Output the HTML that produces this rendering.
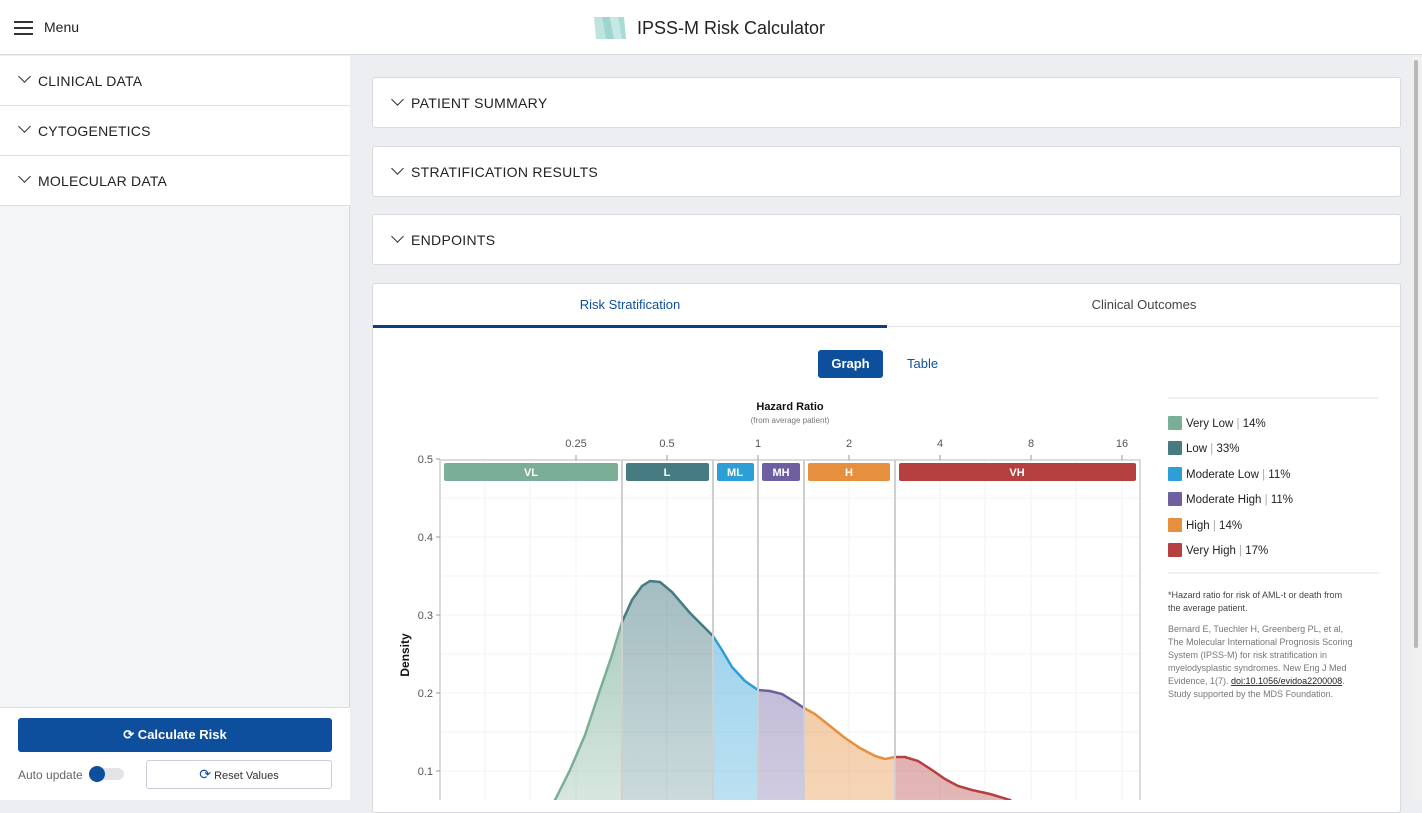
<!DOCTYPE html>
<html><head><meta charset="utf-8"><style>
*{box-sizing:border-box;margin:0;padding:0}
body{width:1422px;height:800px;overflow:hidden;background:#eceef1;font-family:"Liberation Sans",sans-serif;color:#222;position:relative}
.abs{position:absolute}
#hdr{left:0;top:0;width:1422px;height:55px;background:#fff;border-bottom:1px solid #d6d8dc}
#side{left:0;top:56px;width:350px;height:744px;background:#f4f5f7;border-right:1px solid #d6d8dc}
.sec{position:absolute;left:0;width:350px;height:50px;background:#fff;border-bottom:1px solid #dcdee2;font-size:14px;letter-spacing:.2px;padding:17px 0 0 38px}
.chev{position:absolute;width:9px;height:9px;border-right:1.6px solid #333;border-bottom:1.6px solid #333;transform:rotate(45deg)}
.card{position:absolute;left:372px;width:1029px;background:#fff;border:1px solid #d8dadf;border-radius:3px;font-size:14px;letter-spacing:.3px}
</style></head><body>
<div id="hdr" class="abs">
  <div class="abs" style="left:14px;top:21px;width:19px;height:2px;background:#333;box-shadow:0 6px 0 #333,0 12px 0 #333"></div>
  <div class="abs" style="left:44px;top:19px;font-size:14px">Menu</div>
  <svg class="abs" style="left:592px;top:17px" width="36" height="22"><polygon points="2,0 10,0 14,22 4,22" fill="#bfe3df"/><polygon points="10,0 18,0 22,22 14,22" fill="#9fd4cf"/><polygon points="18,0 26,0 30,22 22,22" fill="#c6e8e4"/><polygon points="26,0 32,0 34,22 30,22" fill="#a9dad5"/></svg>
  <div class="abs" style="left:637px;top:18px;font-size:18px;color:#222">IPSS-M Risk Calculator</div>
</div>
<div id="side" class="abs">
  <div class="sec" style="top:0">CLINICAL DATA<div class="chev" style="left:20px;top:16px"></div></div>
  <div class="sec" style="top:50px">CYTOGENETICS<div class="chev" style="left:20px;top:16px"></div></div>
  <div class="sec" style="top:100px">MOLECULAR DATA<div class="chev" style="left:20px;top:16px"></div></div>
  <div class="abs" style="left:0;top:651px;width:350px;height:93px;background:#fff;border-top:1px solid #dcdee2"></div>
  <div class="abs" style="left:18px;top:662px;width:314px;height:34px;background:#0d4f9c;border-radius:3px;color:#fff;font-size:13px;font-weight:bold;text-align:center;line-height:34px">&#x27F3; Calculate Risk</div>
  <div class="abs" style="left:18px;top:712px;font-size:12px;color:#666">Auto update</div>
  <div class="abs" style="left:90px;top:712px;width:34px;height:12px;background:#e3e4e7;border-radius:6px"></div>
  <div class="abs" style="left:89px;top:710px;width:16px;height:16px;background:#0d4f9c;border-radius:50%"></div>
  <div class="abs" style="left:146px;top:704px;width:186px;height:29px;border:1px solid #ccd;border-radius:3px;font-size:11px;color:#333;text-align:center;line-height:27px"><span style="color:#0d4f9c;font-size:14px">&#x27F3;</span> Reset Values</div>
</div>
<div class="card" style="top:77px;height:51px;padding:17px 0 0 38px">PATIENT SUMMARY<div class="chev" style="left:20px;top:17px"></div></div>
<div class="card" style="top:146px;height:51px;padding:17px 0 0 38px">STRATIFICATION RESULTS<div class="chev" style="left:20px;top:17px"></div></div>
<div class="card" style="top:214px;height:51px;padding:17px 0 0 38px">ENDPOINTS<div class="chev" style="left:20px;top:17px"></div></div>
<div class="card" style="top:283px;height:530px">
  <div class="abs" style="left:0;top:42px;width:1027px;height:1px;background:#e2e4e8"></div>
  <div class="abs" style="left:0;top:41px;width:514px;height:3px;background:#0d3f80"></div>
  <div class="abs" style="left:0;top:13px;width:514px;text-align:center;font-size:13px;color:#0d4f9c;letter-spacing:0">Risk Stratification</div>
  <div class="abs" style="left:514px;top:13px;width:514px;text-align:center;font-size:13px;color:#444;letter-spacing:0">Clinical Outcomes</div>
  <div class="abs" style="left:445px;top:66px;width:65px;height:28px;background:#0d4f9c;border-radius:3px;color:#fff;font-size:13px;font-weight:bold;text-align:center;line-height:28px;letter-spacing:0">Graph</div>
  <div class="abs" style="left:534px;top:72px;font-size:13px;color:#0d4f9c;letter-spacing:0">Table</div>
</div>
<div class="abs" style="left:1412px;top:56px;width:10px;height:744px;background:#f0f0f0"></div>
<div class="abs" style="left:1414px;top:60px;width:4px;height:588px;background:#b8b8b8;border-radius:2px"></div>
<svg class="abs" style="left:0;top:0" width="1422" height="800" font-family="Liberation Sans, sans-serif">
<defs>
<linearGradient id="g0" x1="0" y1="0" x2="0" y2="1"><stop offset="0.3" stop-color="#7aae96" stop-opacity=".55"/><stop offset="1" stop-color="#7aae96" stop-opacity=".25"/></linearGradient>
<linearGradient id="g1" x1="0" y1="0" x2="0" y2="1"><stop offset="0" stop-color="#467b82" stop-opacity=".5"/><stop offset="1" stop-color="#467b82" stop-opacity=".25"/></linearGradient>
<linearGradient id="g2" x1="0" y1="0" x2="0" y2="1"><stop offset="0" stop-color="#2e9fd6" stop-opacity=".5"/><stop offset="1" stop-color="#2e9fd6" stop-opacity=".3"/></linearGradient>
<linearGradient id="g3" x1="0" y1="0" x2="0" y2="1"><stop offset="0" stop-color="#6e5fa0" stop-opacity=".5"/><stop offset="1" stop-color="#6e5fa0" stop-opacity=".3"/></linearGradient>
<linearGradient id="g4" x1="0" y1="0" x2="0" y2="1"><stop offset="0" stop-color="#e68f3e" stop-opacity=".55"/><stop offset="1" stop-color="#e68f3e" stop-opacity=".35"/></linearGradient>
<linearGradient id="g5" x1="0" y1="0" x2="0" y2="1"><stop offset="0" stop-color="#b5403f" stop-opacity=".55"/><stop offset="1" stop-color="#b5403f" stop-opacity=".35"/></linearGradient>
<path id="c" d="M540,830 L555,800 L570,770 L585,735 L600,690 L612,655 L622,622 L632,600 L642,586 L650,581 L660,582 L672,592 L690,613 L705,628 L713,636 L722,650 L732,667 L745,681 L758,690 L770,691 L782,694 L795,702 L804,708 L815,714 L830,726 L845,738 L860,748 L875,756 L885,759 L895,757 L905,757 L918,761 L932,770 L945,779 L958,786 L972,790 L990,794 L1010,800 L1030,815"/>
<clipPath id="k0"><rect x="440" y="460" width="182" height="400"/></clipPath>
<clipPath id="k1"><rect x="622" y="460" width="91" height="400"/></clipPath>
<clipPath id="k2"><rect x="713" y="460" width="45" height="400"/></clipPath>
<clipPath id="k3"><rect x="758" y="460" width="46" height="400"/></clipPath>
<clipPath id="k4"><rect x="804" y="460" width="91" height="400"/></clipPath>
<clipPath id="k5"><rect x="895" y="460" width="245" height="400"/></clipPath>
</defs>
<g stroke="#f3f3f3" stroke-width="1">
<line x1="440" y1="498" x2="1140" y2="498"/><line x1="440" y1="537" x2="1140" y2="537"/><line x1="440" y1="576" x2="1140" y2="576"/><line x1="440" y1="615" x2="1140" y2="615"/><line x1="440" y1="654" x2="1140" y2="654"/><line x1="440" y1="693" x2="1140" y2="693"/><line x1="440" y1="732" x2="1140" y2="732"/><line x1="440" y1="771" x2="1140" y2="771"/>
<line x1="485" y1="460" x2="485" y2="800"/><line x1="530" y1="460" x2="530" y2="800"/><line x1="576" y1="460" x2="576" y2="800"/><line x1="667" y1="460" x2="667" y2="800"/><line x1="849" y1="460" x2="849" y2="800"/><line x1="940" y1="460" x2="940" y2="800"/><line x1="985" y1="460" x2="985" y2="800"/><line x1="1031" y1="460" x2="1031" y2="800"/><line x1="1076" y1="460" x2="1076" y2="800"/><line x1="1122" y1="460" x2="1122" y2="800"/>
</g>
<g>
<use href="#c" clip-path="url(#k0)" fill="url(#g0)" stroke="none"/>
<use href="#c" clip-path="url(#k1)" fill="url(#g1)"/>
<use href="#c" clip-path="url(#k2)" fill="url(#g2)"/>
<use href="#c" clip-path="url(#k3)" fill="url(#g3)"/>
<use href="#c" clip-path="url(#k4)" fill="url(#g4)"/>
<use href="#c" clip-path="url(#k5)" fill="url(#g5)"/>
</g>
<g fill="none" stroke-width="2.5">
<use href="#c" clip-path="url(#k0)" stroke="#7aae96"/>
<use href="#c" clip-path="url(#k1)" stroke="#467b82"/>
<use href="#c" clip-path="url(#k2)" stroke="#2e9fd6"/>
<use href="#c" clip-path="url(#k3)" stroke="#6e5fa0"/>
<use href="#c" clip-path="url(#k4)" stroke="#e68f3e"/>
<use href="#c" clip-path="url(#k5)" stroke="#b5403f"/>
</g>
<g stroke="#cfcfcf" stroke-width="2">
<line x1="622" y1="460" x2="622" y2="800"/><line x1="713" y1="460" x2="713" y2="800"/><line x1="758" y1="460" x2="758" y2="800"/><line x1="804" y1="460" x2="804" y2="800"/><line x1="895" y1="460" x2="895" y2="800"/>
</g>
<rect x="440" y="460" width="700" height="345" fill="none" stroke="#cfcfcf" stroke-width="1.5"/>
<g stroke="#999"><line x1="436" y1="459" x2="440" y2="459"/><line x1="436" y1="537" x2="440" y2="537"/><line x1="436" y1="615" x2="440" y2="615"/><line x1="436" y1="693" x2="440" y2="693"/><line x1="436" y1="771" x2="440" y2="771"/>
<line x1="576" y1="455" x2="576" y2="460"/><line x1="667" y1="455" x2="667" y2="460"/><line x1="758" y1="455" x2="758" y2="460"/><line x1="849" y1="455" x2="849" y2="460"/><line x1="940" y1="455" x2="940" y2="460"/><line x1="1031" y1="455" x2="1031" y2="460"/><line x1="1122" y1="455" x2="1122" y2="460"/></g>
<g font-size="11" fill="#555" text-anchor="end"><text x="433" y="463">0.5</text><text x="433" y="541">0.4</text><text x="433" y="619">0.3</text><text x="433" y="697">0.2</text><text x="433" y="775">0.1</text></g>
<g font-size="11" fill="#555" text-anchor="middle"><text x="576" y="447">0.25</text><text x="667" y="447">0.5</text><text x="758" y="447">1</text><text x="849" y="447">2</text><text x="940" y="447">4</text><text x="1031" y="447">8</text><text x="1122" y="447">16</text></g>
<text x="790" y="410" font-size="11" font-weight="bold" text-anchor="middle" fill="#111">Hazard Ratio</text>
<text x="790" y="423" font-size="8" text-anchor="middle" fill="#777">(from average patient)</text>
<text transform="translate(409,655) rotate(-90)" font-size="12" font-weight="bold" text-anchor="middle" fill="#111">Density</text>
<g font-size="11" font-weight="bold" fill="#fff" text-anchor="middle">
<rect x="444" y="463" width="174" height="18" rx="2" fill="#7aae96"/><text x="531" y="476">VL</text>
<rect x="626" y="463" width="83" height="18" rx="2" fill="#467b82"/><text x="667" y="476">L</text>
<rect x="717" y="463" width="37" height="18" rx="2" fill="#2e9fd6"/><text x="735" y="476">ML</text>
<rect x="762" y="463" width="38" height="18" rx="2" fill="#6e5fa0"/><text x="781" y="476">MH</text>
<rect x="808" y="463" width="82" height="18" rx="2" fill="#e68f3e"/><text x="849" y="476">H</text>
<rect x="899" y="463" width="237" height="18" rx="2" fill="#b5403f"/><text x="1017" y="476">VH</text>
</g>
<line x1="1168" y1="398" x2="1379" y2="398" stroke="#e0e0e0"/>
<line x1="1168" y1="573" x2="1379" y2="573" stroke="#e0e0e0"/>
<g font-size="11.5" fill="#222">
<rect x="1168" y="416" width="14" height="14" rx="1" fill="#7aae96"/><text x="1186" y="427">Very Low  <tspan fill="#aaa">|</tspan>  14%</text>
<rect x="1168" y="441" width="14" height="14" rx="1" fill="#467b82"/><text x="1186" y="452">Low  <tspan fill="#aaa">|</tspan>  33%</text>
<rect x="1168" y="467" width="14" height="14" rx="1" fill="#2e9fd6"/><text x="1186" y="478">Moderate Low  <tspan fill="#aaa">|</tspan>  11%</text>
<rect x="1168" y="492" width="14" height="14" rx="1" fill="#6e5fa0"/><text x="1186" y="503">Moderate High  <tspan fill="#aaa">|</tspan>  11%</text>
<rect x="1168" y="518" width="14" height="14" rx="1" fill="#e68f3e"/><text x="1186" y="529">High  <tspan fill="#aaa">|</tspan>  14%</text>
<rect x="1168" y="543" width="14" height="14" rx="1" fill="#b5403f"/><text x="1186" y="554">Very High  <tspan fill="#aaa">|</tspan>  17%</text>
</g>
<g font-size="9" fill="#444"><text x="1168" y="598">*Hazard ratio for risk of AML-t or death from</text><text x="1168" y="611">the average patient.</text></g>
<g font-size="9" fill="#777"><text x="1168" y="632">Bernard E, Tuechler H, Greenberg PL, et al,</text><text x="1168" y="645">The Molecular International Prognosis Scoring</text><text x="1168" y="658">System (IPSS-M) for risk stratification in</text><text x="1168" y="671">myelodysplastic syndromes. New Eng J Med</text><text x="1168" y="684">Evidence, 1(7). <tspan fill="#222" text-decoration="underline">doi:10.1056/evidoa2200008</tspan>.</text><text x="1168" y="697">Study supported by the MDS Foundation.</text></g>
</svg>
</body></html>
